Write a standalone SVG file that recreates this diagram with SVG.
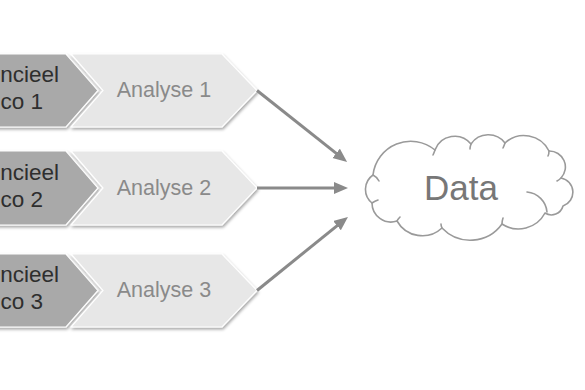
<svg xmlns="http://www.w3.org/2000/svg" width="585" height="390" viewBox="0 0 585 390">
<defs>
<style>
.dark{fill:#a9a9a9;stroke:#ffffff;stroke-width:1.2;filter:url(#sh)}
.light{fill:#e7e7e7;stroke:#ffffff;stroke-width:1.2;filter:url(#sh)}
.dt{font-family:"Liberation Sans",Arial,sans-serif;font-size:22.5px;fill:#2e2e2e;text-anchor:end}
.lt{font-family:"Liberation Sans",Arial,sans-serif;font-size:21.5px;fill:#8a8a8a;text-anchor:middle}
.conn{stroke:#8a8a8a;stroke-width:3;fill:none;marker-end:url(#ah)}
.cloud{fill:#ffffff;stroke:#9a9a9a;stroke-width:1.6;stroke-linejoin:round}
.cin{fill:none;stroke:#9a9a9a;stroke-width:1.6;stroke-linecap:round}
</style>
<filter id="sh" x="-10%" y="-10%" width="130%" height="140%">
<feDropShadow dx="1" dy="2" stdDeviation="1.5" flood-color="#000" flood-opacity="0.35"/>
</filter>
<marker id="ah" markerUnits="userSpaceOnUse" markerWidth="15" markerHeight="13" refX="3" refY="6" orient="auto">
<path d="M0,0 L14,6 L0,12 z" fill="#8a8a8a"/>
</marker>
</defs>
<g id="row1-left">
<polygon class="dark" points="-10,54 66,54 98,90.5 66,127 -10,127"/>
<text class="dt" x="59" y="82">ncieel</text>
<text class="dt" x="43" y="109">co 1</text>
</g>
<g id="analyse1">
<polygon class="light" points="71,54 222,54 257,90.5 222,127 71,127 103,90.5"/>
<text class="lt" x="164" y="97">Analyse 1</text>
</g>
<g id="row2-left">
<polygon class="dark" points="-10,151 66,151 98,188 66,225 -10,225"/>
<text class="dt" x="59" y="179.5">ncieel</text>
<text class="dt" x="43" y="206.5">co 2</text>
</g>
<g id="analyse2">
<polygon class="light" points="71,151 222,151 257,188 222,225 71,225 103,188"/>
<text class="lt" x="164" y="194.5">Analyse 2</text>
</g>
<g id="row3-left">
<polygon class="dark" points="-10,254 66,254 98,290.5 66,327 -10,327"/>
<text class="dt" x="59" y="282">ncieel</text>
<text class="dt" x="43" y="309">co 3</text>
</g>
<g id="analyse3">
<polygon class="light" points="71,254 222,254 257,290.5 222,327 71,327 103,290.5"/>
<text class="lt" x="164" y="297">Analyse 3</text>
</g>
<g id="data">
<path class="cloud" d="M373,175 A38,38 0 0 1 435,150 A21,21 0 0 1 471,144 A21,21 0 0 1 505,143 A28,28 0 0 1 549,151 A16,16 0 0 1 561,178 A14.5,14.5 0 0 1 563,206 A12,12 0 0 1 545,213 A30,30 0 0 1 502,224 A39,39 0 0 1 442,228 A29,29 0 0 1 397,221 A19,19 0 0 1 372,203 A17.5,17.5 0 0 1 373,175 Z"/>
<path class="cin" d="M527,192 A22,22 0 0 1 547,212 M373,175 Q377,177 379,181 M372,203 Q375,201 378,200 M435,150 Q434,153 433,155 M471,144 Q470,147 470,149 M505,143 Q504,146 503,148 M549,151 Q549,154 548,156 M561,178 Q559,180 557,181 M502,224 Q502,221 503,218 M442,228 Q441,226 441,224 M397,221 Q398,219 400,217"/>
<text x="461" y="200" style="font-family:'Liberation Sans',Arial,sans-serif;font-size:35px;fill:#777777;text-anchor:middle">Data</text>
</g>
<g id="connectors">
<line class="conn" x1="257" y1="90.5" x2="338.5" y2="155.2"/>
<line class="conn" x1="257" y1="188" x2="337" y2="188"/>
<line class="conn" x1="257" y1="290.5" x2="339.4" y2="223.8"/>
</g>
</svg>
